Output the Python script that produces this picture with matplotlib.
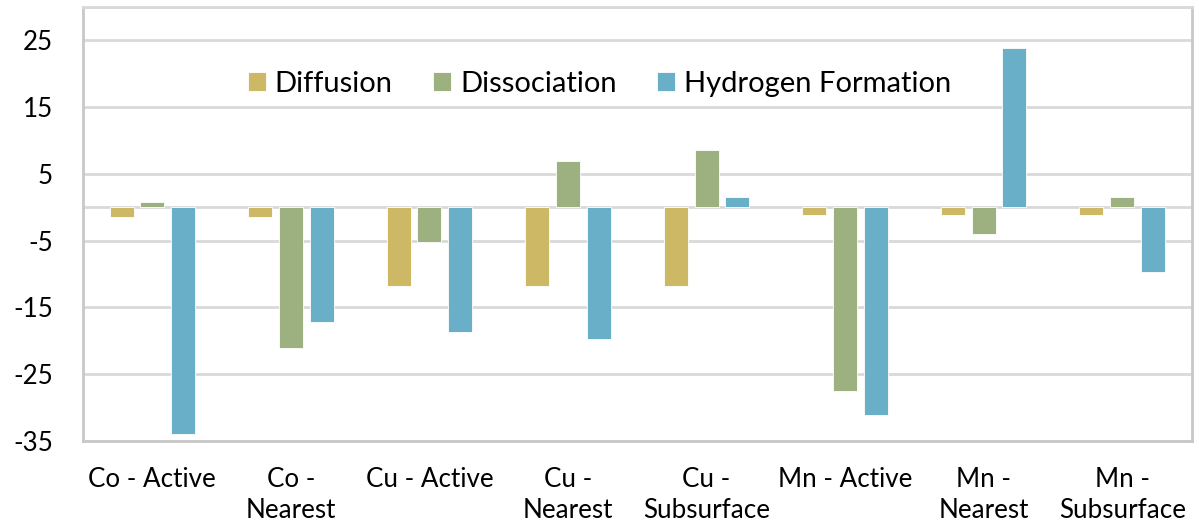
import numpy as np
import matplotlib
matplotlib.use("Agg")
import matplotlib.pyplot as plt

plt.rcParams['font.family'] = ['Lato', 'DejaVu Sans']

categories = ["Co - Active", "Co -\nNearest", "Cu - Active", "Cu -\nNearest",
              "Cu -\nSubsurface", "Mn - Active", "Mn -\nNearest", "Mn -\nSubsurface"]
diffusion = [-1.5, -1.4, -11.8, -11.8, -11.8, -1.1, -1.15, -1.15]
dissociation = [0.7, -21.1, -5.2, 6.9, 8.6, -27.5, -4.0, 1.5]
hydrogen_formation = [-34.0, -17.2, -18.7, -19.8, 1.5, -31.1, 23.8, -9.7]
series_names = ["Diffusion", "Dissociation", "Hydrogen Formation"]
yticks = [-35, -25, -15, -5, 5, 15, 25]

colors = ["#CDB866", "#9DB080", "#6AAFC8"]
grid_color = "#D9D9D9"

fig = plt.figure(figsize=(11.99, 5.26), dpi=100)
ax = fig.add_axes([83 / 1199, 1 - 440.7 / 526, (1191.5 - 83) / 1199, (440.7 - 7) / 526])

x = np.arange(len(categories))
width = 0.173
step = 0.222
for i, (vals, name, c) in enumerate(zip([diffusion, dissociation, hydrogen_formation],
                                         series_names, colors)):
    ax.bar(x + (i - 1) * step, vals, width, color=c, label=name,
           edgecolor="white", linewidth=0.6, zorder=3)

ax.set_xlim(-0.5, len(categories) - 0.5)
ax.set_ylim(-35, 30)
ax.set_yticks(yticks)
ax.set_yticklabels([str(v) for v in yticks])
ax.set_xticks(x)
ax.set_xticklabels(categories, linespacing=1.32)

for v in yticks + [30]:
    ax.axhline(v, color=grid_color, linewidth=2, zorder=1)
ax.axhline(0, color=grid_color, linewidth=2, zorder=2)

for side in ["left", "right", "top", "bottom"]:
    ax.spines[side].set_color("#C8C8C8")
    ax.spines[side].set_linewidth(2)
ax.spines["top"].set_color(grid_color)

ax.tick_params(axis="both", length=0, labelsize=18.7, colors="black")
ax.tick_params(axis="y", pad=21.5)
ax.tick_params(axis="x", pad=19)
for lbl in ax.get_yticklabels():
    lbl.set_horizontalalignment("right")

leg = ax.legend(loc="center", bbox_to_anchor=(0.466, 0.823), ncol=3, frameon=False,
                fontsize=21, handlelength=0.61, handleheight=0.61, handletextpad=0.3,
                columnspacing=1.4)

fig.savefig("out.png", dpi=100, facecolor="white")
